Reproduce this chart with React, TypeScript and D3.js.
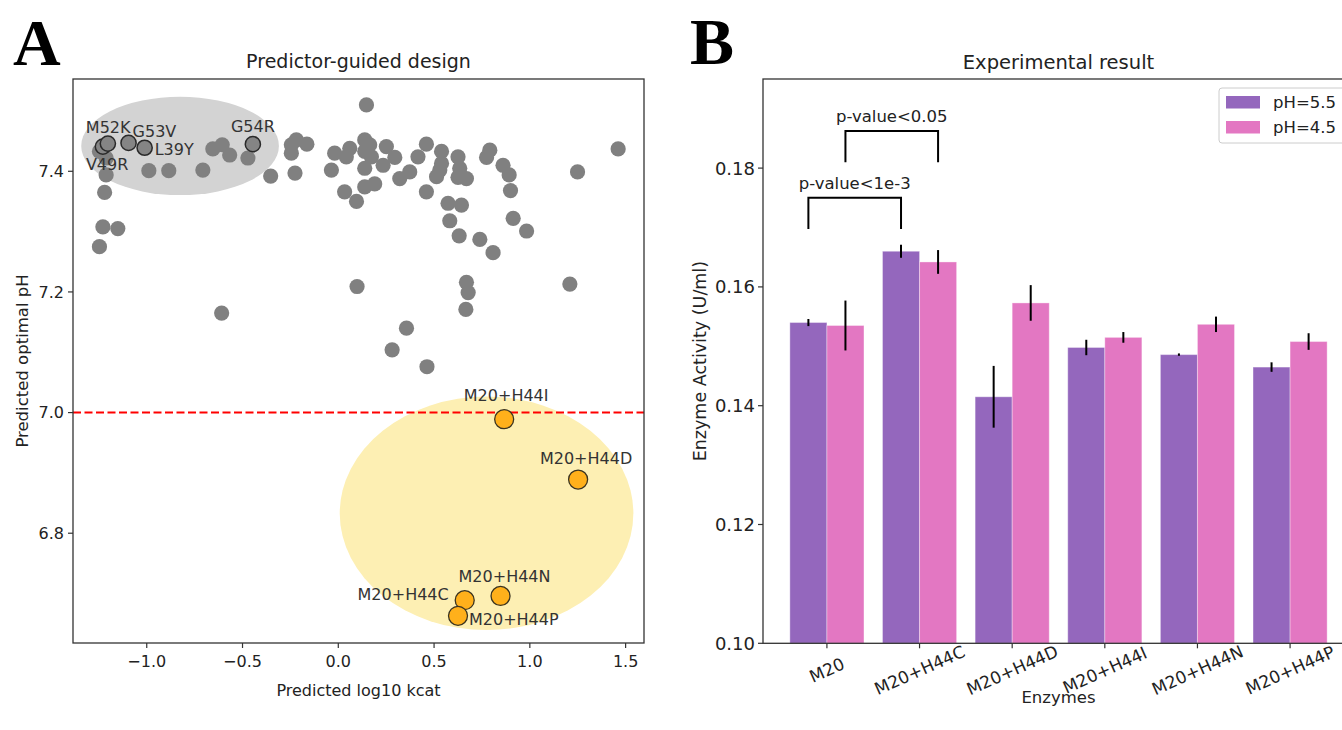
import React from 'react';
import * as d3 from 'd3';

// ---------- Panel A data ----------
const grayPoints: [number, number][] = [
  [-1.247, 7.433], [-1.212, 7.422], [-1.212, 7.394], [-1.220, 7.365], [-1.229, 7.308],
  [-1.151, 7.305], [-1.247, 7.275], [-0.989, 7.401], [-0.885, 7.401], [-0.707, 7.402],
  [-0.655, 7.437], [-0.606, 7.444], [-0.567, 7.427], [-0.472, 7.422], [-0.353, 7.392],
  [-0.245, 7.444], [-0.219, 7.452], [-0.245, 7.430], [-0.164, 7.445], [-0.226, 7.397],
  [-0.036, 7.402], [-0.019, 7.430], [-0.609, 7.165], [0.147, 7.510], [0.042, 7.424],
  [0.060, 7.438], [0.138, 7.452], [0.164, 7.444], [0.138, 7.433], [0.173, 7.424],
  [0.138, 7.405], [0.251, 7.441], [0.295, 7.423], [0.234, 7.410], [0.190, 7.379],
  [0.138, 7.374], [0.033, 7.366], [0.095, 7.350], [0.321, 7.388], [0.373, 7.399],
  [0.460, 7.445], [0.416, 7.424], [0.539, 7.433], [0.539, 7.413], [0.530, 7.402],
  [0.513, 7.391], [0.460, 7.366], [0.625, 7.424], [0.634, 7.405], [0.625, 7.390],
  [0.669, 7.388], [0.791, 7.435], [0.774, 7.423], [0.860, 7.410], [0.892, 7.394],
  [0.899, 7.368], [0.913, 7.322], [0.983, 7.301], [0.573, 7.347], [0.643, 7.344],
  [0.582, 7.318], [0.631, 7.293], [0.739, 7.287], [0.808, 7.265], [0.669, 7.216],
  [0.678, 7.199], [0.666, 7.171], [0.098, 7.209], [0.356, 7.140], [0.281, 7.104],
  [0.463, 7.076], [1.209, 7.213], [1.249, 7.399], [1.461, 7.437],
];

const markedNames = ['V49R', 'M52K', 'G53V', 'L39Y', 'G54R'];
const markedX = [-1.229, -1.203, -1.095, -1.011, -0.446];
const markedY = [7.441, 7.446, 7.447, 7.439, 7.445];

const designNames = ['M20+H44I', 'M20+H44D', 'M20+H44N', 'M20+H44C', 'M20+H44P'];
const designX = [0.866, 1.252, 0.847, 0.660, 0.625];
const designY = [6.989, 6.889, 6.696, 6.689, 6.663];

// ellipses: [cx, cy, width, height] in data units
const grayEllipse = [-0.826, 7.442, 1.032, 0.163];
const yellowEllipse = [0.774, 6.833, 1.533, 0.387];
const thresholdPH = 7.0;

const xTicksA = [-1.0, -0.5, 0.0, 0.5, 1.0, 1.5];
const yTicksA = [6.8, 7.0, 7.2, 7.4];

// ---------- Panel B data ----------
const enzymes = ['M20', 'M20+H44C', 'M20+H44D', 'M20+H44I', 'M20+H44N', 'M20+H44P'];
const seriesNames = ['pH=5.5', 'pH=4.5'];
const ph55 = [0.1540, 0.1660, 0.1415, 0.1498, 0.1486, 0.1465];
const ph55Err = [0.0006, 0.0011, 0.0052, 0.0013, 0.0002, 0.0008];
const ph45 = [0.1535, 0.1642, 0.1573, 0.1515, 0.1537, 0.1508];
const ph45Err = [0.0042, 0.0020, 0.0030, 0.0009, 0.0013, 0.0014];
const yTicksB = [0.10, 0.12, 0.14, 0.16, 0.18];
// significance brackets: [groupA, groupB, seriesIndex, top, legBottom, label]
const brackets: [number, number, number, number, number, string][] = [
  [0, 1, 0, 0.1750, 0.16975, 'p-value<1e-3'],
  [0, 1, 1, 0.18625, 0.18098, 'p-value<0.05'],
];

// ---------- style / layout ----------
const FONT = 'DejaVu Sans';
const SERIF = 'Liberation Serif';
const SPINE = '#333';
const colors = ['#9467bd', '#e377c2'];

const markedLabelOffsets: Record<string, [number, number, string]> = {
  V49R: [-17, 23, 'start'],
  M52K: [-22, -11, 'start'],
  G53V: [4, -6, 'start'],
  L39Y: [10, 7, 'start'],
  G54R: [0, -12, 'middle'],
};
const designLabelOffsets: Record<string, [number, number, string]> = {
  'M20+H44I': [2, -18, 'middle'],
  'M20+H44D': [8, -16, 'middle'],
  'M20+H44N': [4, -14, 'middle'],
  'M20+H44C': [-16, 0, 'end'],
  'M20+H44P': [11, 9, 'start'],
};

export default function App() {
  // Panel A scales
  const A = { left: 73, right: 644, top: 79, bottom: 643 };
  const xA = d3.scaleLinear().domain([-1.385, 1.596]).range([A.left, A.right]);
  const yA = d3.scaleLinear().domain([6.618, 7.553]).range([A.bottom, A.top]);

  // Panel B scales
  const B = { left: 763, right: 1354, top: 79, bottom: 643.3 };
  const xB = d3.scaleLinear().domain([-0.69, 5.69]).range([B.left, B.right]);
  const yB = d3.scaleLinear().domain([0.1, 0.195]).range([B.bottom, B.top]);
  const barW = 0.4;
  const pxBar = xB(barW) - xB(0);
  const series = [ph55, ph45];
  const errs = [ph55Err, ph45Err];
  const offs = [-barW / 2, barW / 2];

  const ellipse = (e: number[], fill: string) => (
    <ellipse
      cx={xA(e[0])}
      cy={yA(e[1])}
      rx={Math.abs(xA(e[0] + e[2] / 2) - xA(e[0]))}
      ry={Math.abs(yA(e[1] + e[3] / 2) - yA(e[1]))}
      fill={fill}
    />
  );

  return (
    <svg
      width={1342}
      height={730}
      style={{ position: 'absolute', left: 0, top: 0, display: 'block', background: '#fff' }}
      fontFamily={FONT}
    >
      <rect x={0} y={0} width={1342} height={730} fill="#fff" />
      {/* Panel letters */}
      <text x={13} y={65} fontFamily={SERIF} fontWeight="bold" fontSize={66} fill="#000">A</text>
      <text x={690} y={64} fontFamily={SERIF} fontWeight="bold" fontSize={66} fill="#000">B</text>

      {/* ================= Panel A ================= */}
      <text x={(A.left + A.right) / 2} y={68} textAnchor="middle" fontSize={19} fill="#222">
        Predictor-guided design
      </text>
      <defs>
        <clipPath id="clipA">
          <rect x={A.left} y={A.top} width={A.right - A.left} height={A.bottom - A.top} />
        </clipPath>
      </defs>
      <g clipPath="url(#clipA)">
        {ellipse(grayEllipse, '#d3d3d3')}
        {ellipse(yellowEllipse, '#fdefb3')}
        <line
          x1={A.left}
          x2={A.right}
          y1={yA(thresholdPH)}
          y2={yA(thresholdPH)}
          stroke="#ff0000"
          strokeWidth={2}
          strokeDasharray="8,3.5"
        />
        {grayPoints.map((p, i) => (
          <circle key={'g' + i} cx={xA(p[0])} cy={yA(p[1])} r={7.6} fill="#808080" />
        ))}
        {markedNames.map((n, i) => (
          <circle key={'m' + n} cx={xA(markedX[i])} cy={yA(markedY[i])} r={7.6} fill="#858585" stroke="#2a2a2a" strokeWidth={1.5} />
        ))}
        {designNames.map((n, i) => (
          <circle key={'d' + n} cx={xA(designX[i])} cy={yA(designY[i])} r={9.5} fill="#ffb01b" stroke="#3a3320" strokeWidth={1.3} />
        ))}
      </g>
      {markedNames.map((n, i) => {
        const o = markedLabelOffsets[n];
        return (
          <text key={'ml' + n} x={xA(markedX[i]) + o[0]} y={yA(markedY[i]) + o[1]} textAnchor={o[2] as any} fontSize={16} fill="#333">
            {n}
          </text>
        );
      })}
      {designNames.map((n, i) => {
        const o = designLabelOffsets[n];
        return (
          <text key={'dl' + n} x={xA(designX[i]) + o[0]} y={yA(designY[i]) + o[1]} textAnchor={o[2] as any} fontSize={16} fill="#333">
            {n}
          </text>
        );
      })}
      {/* spines */}
      <rect x={A.left} y={A.top} width={A.right - A.left} height={A.bottom - A.top} fill="none" stroke={SPINE} strokeWidth={1.3} />
      {xTicksA.map((t) => (
        <g key={'xa' + t}>
          <line x1={xA(t)} x2={xA(t)} y1={A.bottom} y2={A.bottom + 5} stroke={SPINE} strokeWidth={1.2} />
          <text x={xA(t)} y={667} textAnchor="middle" fontSize={16} fill="#222">
            {d3.format('.1f')(t).replace('-', '\u2212')}
          </text>
        </g>
      ))}
      {yTicksA.map((t) => (
        <g key={'ya' + t}>
          <line x1={A.left - 5} x2={A.left} y1={yA(t)} y2={yA(t)} stroke={SPINE} strokeWidth={1.2} />
          <text x={A.left - 9} y={yA(t)} dy="0.36em" textAnchor="end" fontSize={16} fill="#222">
            {d3.format('.1f')(t)}
          </text>
        </g>
      ))}
      <text x={(A.left + A.right) / 2} y={696} textAnchor="middle" fontSize={16} fill="#222">
        Predicted log10 kcat
      </text>
      <text
        transform={`translate(22,${(A.top + A.bottom) / 2}) rotate(-90)`}
        textAnchor="middle"
        dy="0.36em"
        fontSize={16.5}
        fill="#222"
      >
        Predicted optimal pH
      </text>

      {/* ================= Panel B ================= */}
      <text x={(B.left + B.right) / 2} y={69} textAnchor="middle" fontSize={19.5} fill="#222">
        Experimental result
      </text>
      {enzymes.map((e, i) =>
        series.map((s, k) => {
          const cx = i + offs[k];
          return (
            <rect
              key={'b' + i + '-' + k}
              x={xB(cx - barW / 2)}
              y={yB(s[i])}
              width={pxBar}
              height={yB(0.1) - yB(s[i])}
              fill={colors[k]}
              stroke="#fff"
              strokeOpacity={0.35}
              strokeWidth={1}
            />
          );
        })
      )}
      {enzymes.map((e, i) =>
        series.map((s, k) => {
          const cx = xB(i + offs[k]);
          return (
            <line
              key={'e' + i + '-' + k}
              x1={cx}
              x2={cx}
              y1={yB(s[i] - errs[k][i])}
              y2={yB(s[i] + errs[k][i])}
              stroke="#000"
              strokeWidth={2}
            />
          );
        })
      )}
      {brackets.map((b, j) => {
        const x1 = xB(b[0] + offs[b[2]]);
        const x2 = xB(b[1] + offs[b[2]]);
        const yt = yB(b[3]);
        const yl = yB(b[4]);
        return (
          <g key={'br' + j}>
            <path d={`M${x1},${yl}V${yt}H${x2}V${yl}`} fill="none" stroke="#000" strokeWidth={2} />
            <text x={(x1 + x2) / 2} y={yt - 8.5} textAnchor="middle" fontSize={16.5} fill="#222">
              {b[5]}
            </text>
          </g>
        );
      })}
      {/* spines */}
      <rect x={B.left} y={B.top} width={B.right - B.left} height={B.bottom - B.top} fill="none" stroke={SPINE} strokeWidth={1.3} />
      {yTicksB.map((t) => (
        <g key={'yb' + t}>
          <line x1={B.left - 5} x2={B.left} y1={yB(t)} y2={yB(t)} stroke={SPINE} strokeWidth={1.2} />
          <text x={B.left - 8} y={yB(t)} dy="0.36em" textAnchor="end" fontSize={18} fill="#222">
            {d3.format('.2f')(t)}
          </text>
        </g>
      ))}
      {enzymes.map((e, i) => (
        <g key={'xb' + e}>
          <line x1={xB(i)} x2={xB(i)} y1={B.bottom} y2={B.bottom + 5} stroke={SPINE} strokeWidth={1.2} />
          <text
            transform={`translate(${xB(i)},670) rotate(-24)`}
            textAnchor="middle"
            dy="0.36em"
            fontSize={17}
            fill="#222"
          >
            {e}
          </text>
        </g>
      ))}
      <text x={(B.left + B.right) / 2} y={703} textAnchor="middle" fontSize={16.5} fill="#222">
        Enzymes
      </text>
      <text
        transform={`translate(700,${(B.top + B.bottom) / 2}) rotate(-90)`}
        textAnchor="middle"
        dy="0.36em"
        fontSize={17.5}
        fill="#222"
      >
        Enzyme Activity (U/ml)
      </text>
      {/* legend */}
      <g>
        <rect x={1219} y={88} width={140} height={55} rx={3} fill="#fff" fillOpacity={0.8} stroke="#cccccc" strokeWidth={1} />
        {seriesNames.map((n, k) => (
          <g key={'lg' + n}>
            <rect x={1226} y={96 + k * 25} width={34} height={12.5} fill={colors[k]} />
            <text x={1273} y={96 + k * 25 + 12} fontSize={16.5} fill="#222">
              {n}
            </text>
          </g>
        ))}
      </g>
    </svg>
  );
}
